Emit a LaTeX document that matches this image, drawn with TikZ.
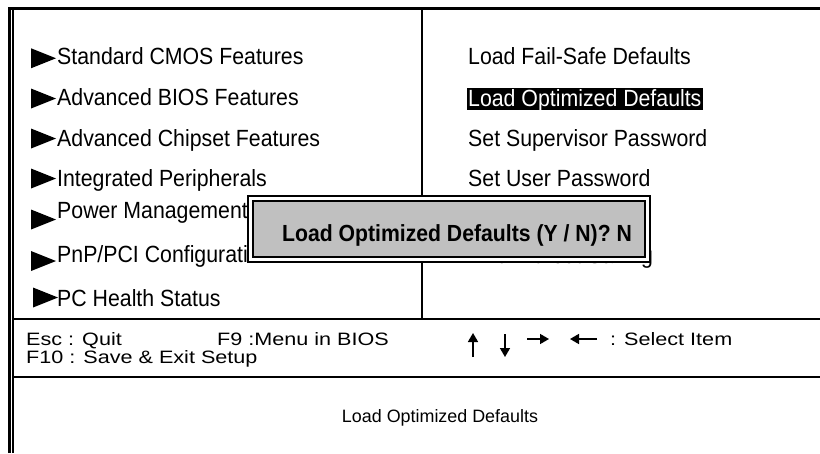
\documentclass[tikz,border=0pt]{standalone}
\usepackage{fontspec}
\usepackage{graphicx}
\setmainfont{Liberation Sans}
\usetikzlibrary{arrows.meta}
\newcommand{\tallt}[1]{\scalebox{1}[1.1]{#1}}
\newcommand{\flatt}[1]{\scalebox{1}[0.83]{#1}}
\newcommand{\bullettri}[2]{\fill (#1,#2-10) -- (#1,#2+10) -- (#1+25,#2) -- cycle;}
\definecolor{dlggray}{HTML}{C0C0C0}
\begin{document}
\begin{tikzpicture}[x=1pt,y=-1pt,
  menu/.style={anchor=base west, inner sep=0pt, font=\fontsize{21.3}{24}\selectfont},
  help/.style={anchor=base west, inner sep=0pt, font=\fontsize{21.6}{24}\selectfont},
  frameline/.style={line width=2.5pt},
  divline/.style={line width=2.2pt},
  keyarrow/.style={line width=1.6pt, -{Triangle[length=9pt,width=10pt]}}]
\useasboundingbox (0,0) rectangle (820,453);
% frame
\draw[frameline] (9.25,453) -- (9.25,8.5);
\draw[line width=2pt] (12.5,453) -- (12.5,8.5);
\draw[line width=3pt] (8,8.5) -- (820,8.5);
\draw[divline] (422,8.5) -- (422,319);
\draw[divline] (12,319) -- (820,319);
\draw[divline] (12,377) -- (820,377);
% left column
\bullettri{31}{58.25}
\node[menu] (m1) at (57,64) {\tallt{Standard CMOS Features}};
\bullettri{31}{98.5}
\node[menu] (m2) at (57,105) {\tallt{Advanced BIOS Features}};
\bullettri{31}{138.5}
\node[menu] (m3) at (57,146) {\tallt{Advanced Chipset Features}};
\bullettri{31}{178.5}
\node[menu] (m4) at (57,186) {\tallt{Integrated Peripherals}};
\bullettri{31}{219.5}
\node[menu] (m5) at (57,218) {\tallt{Power Management}};
\bullettri{31}{261}
\node[menu] (m6) at (57,262) {\tallt{PnP/PCI Configurations}};
\bullettri{33}{297.5}
\node[menu] (m7) at (57,306) {\tallt{PC Health Status}};
% right column
\node[menu] (r1) at (468,64) {\tallt{Load Fail-Safe Defaults}};
\fill (467,88) rectangle (703,110);
\node[menu, text=white] (r2) at (468,106) {\tallt{Load Optimized Defaults}};
\node[menu] (r3) at (468,146) {\tallt{Set Supervisor Password}};
\node[menu] (r4) at (468,186) {\tallt{Set User Password}};
\node[menu] (r6) at (468,263) {\tallt{Exit Without Saving}};
% dialog
\node[draw, line width=2pt, fill=white, minimum width=402pt, minimum height=66pt, inner sep=0pt] (dlgo) at (449,229) {};
\node[draw, line width=1.5pt, fill=dlggray, minimum width=392pt, minimum height=56pt, inner sep=0pt] (dlgi) at (449,229) {};
\node[anchor=base, inner sep=0pt, font=\fontsize{21.2}{24}\selectfont\bfseries] (dlgt) at (457,241) {\tallt{Load Optimized Defaults (Y / N)? N}};
% help lines
\node[help] (h1) at (26,345) {\flatt{Esc : Quit}};
\node[help] (h2) at (217,345) {\flatt{F9 :Menu in BIOS}};
\node[help] (h3) at (26,363) {\flatt{F10 : Save \& Exit Setup}};
\coordinate (upb) at (473,357); \coordinate (upt) at (473,333);
\coordinate (dnt) at (505,334); \coordinate (dnb) at (505,357);
\coordinate (rtl) at (527,339); \coordinate (rtr) at (549,339);
\coordinate (ltr) at (597,339); \coordinate (ltl) at (570,339);
\draw[keyarrow] (upb) -- (upt);
\draw[keyarrow] (dnt) -- (dnb);
\draw[keyarrow] (rtl) -- (rtr);
\draw[keyarrow] (ltr) -- (ltl);
\node[help] (h4) at (610,345) {\flatt{: Select Item}};
% status line
\node[anchor=base, inner sep=0pt, font=\fontsize{17.9}{21}\selectfont] (st) at (440,422) {Load Optimized Defaults};
\end{tikzpicture}
\end{document}
